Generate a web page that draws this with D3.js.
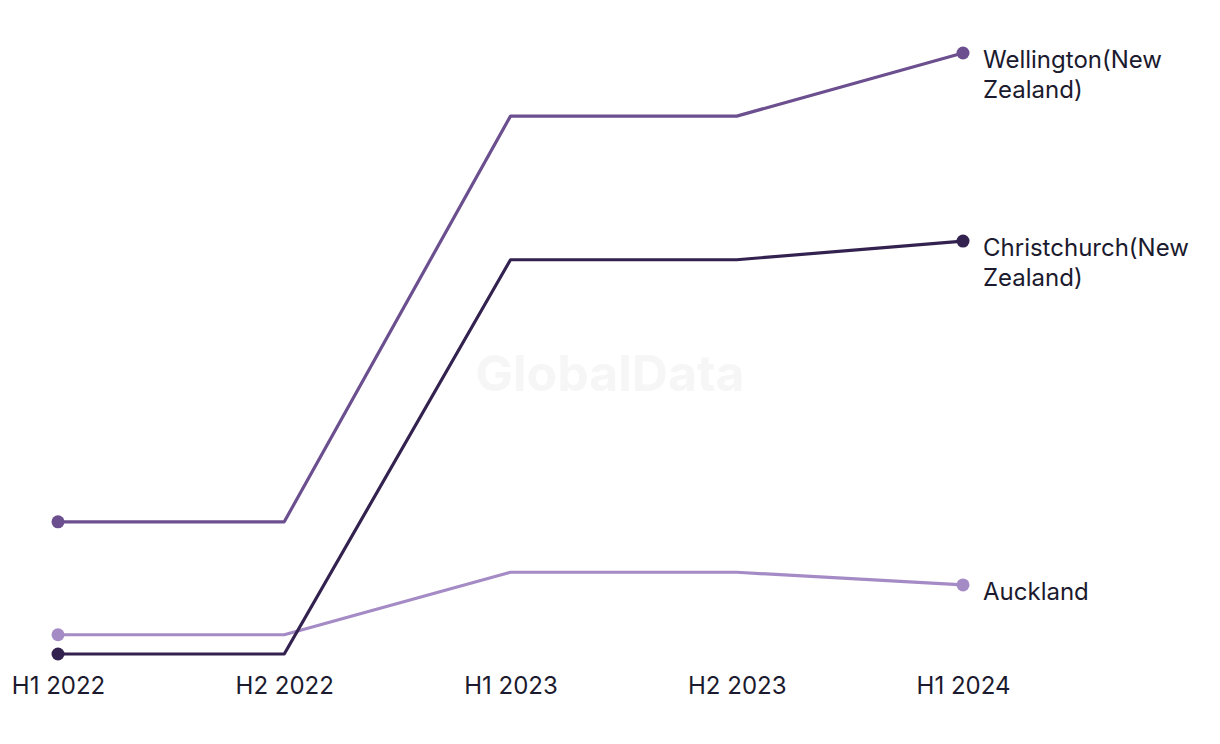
<!DOCTYPE html>
<html>
<head>
<meta charset="utf-8">
<script src="https://cdn.jsdelivr.net/npm/d3@7"></script>
<style>
  html, body { margin: 0; padding: 0; background: #ffffff; }
  svg { display: block; font-family: Inter, "Noto Sans", sans-serif; }
</style>
</head>
<body>
<svg id="chart" width="1220" height="744"></svg>
<script>
const periods = ["H1 2022", "H2 2022", "H1 2023", "H2 2023", "H1 2024"];
const seriesNames = ["Wellington(New Zealand)", "Christchurch(New Zealand)", "Auckland"];
const labelLines = [["Wellington(New", "Zealand)"], ["Christchurch(New", "Zealand)"], ["Auckland"]];
const wellington = [2.2, 2.2, 8.95, 8.95, 10];
const christchurch = [0, 0, 6.56, 6.56, 6.87];
const auckland = [0.32, 0.32, 1.36, 1.36, 1.15];
const colors = ["#6b4f8f", "#33224f", "#a58bc6"];

const seriesData = [wellington, christchurch, auckland];

const svg = d3.select("#chart");
const margin = { left: 58, right: 257, top: 53, bottom: 90 };
const W = 1220, H = 744;

const x = d3.scalePoint().domain(periods).range([margin.left, W - margin.right]);
const y = d3.scaleLinear().domain([0, 10]).range([H - margin.bottom, margin.top]);

// watermark
svg.append("text")
  .attr("x", 610).attr("y", 391)
  .attr("text-anchor", "middle")
  .attr("font-size", 50).attr("font-weight", 700)
  .attr("fill", "#f6f6f6")
  .text("GlobalData");

// x axis labels
const xAxis = d3.axisBottom(x).tickSize(0).tickPadding(0);
const gx = svg.append("g").attr("transform", `translate(0, ${H - margin.bottom + 40})`).call(xAxis);
gx.select(".domain").remove();
gx.selectAll("text")
  .attr("font-size", 24).attr("fill", "#1b1a2e")
  .attr("font-family", "Inter, 'Noto Sans', sans-serif")
  .attr("dy", 0);

const line = d3.line().x((d, i) => x(periods[i])).y(d => y(d));

// draw order: Auckland bottom, then Wellington, then Christchurch
[2, 0, 1].forEach(s => {
  const vals = seriesData[s];
  svg.append("path")
    .datum(vals)
    .attr("d", line)
    .attr("fill", "none")
    .attr("stroke", colors[s])
    .attr("stroke-width", 3.2)
    .attr("stroke-linejoin", "round");
  [0, vals.length - 1].forEach(i => {
    svg.append("circle")
      .attr("cx", x(periods[i]))
      .attr("cy", y(vals[i]))
      .attr("r", 6.5)
      .attr("fill", colors[s]);
  });
});

// end labels
seriesData.forEach((vals, s) => {
  const last = vals.length - 1;
  const t = svg.append("text")
    .attr("x", x(periods[last]) + 20)
    .attr("y", y(vals[last]) + 15)
    .attr("font-size", 24)
    .attr("fill", "#1b1a2e");
  labelLines[s].forEach((ln, k) => {
    t.append("tspan").attr("x", x(periods[last]) + 20).attr("dy", k === 0 ? 0 : 30).text(ln);
  });
});
</script>
</body>
</html>
